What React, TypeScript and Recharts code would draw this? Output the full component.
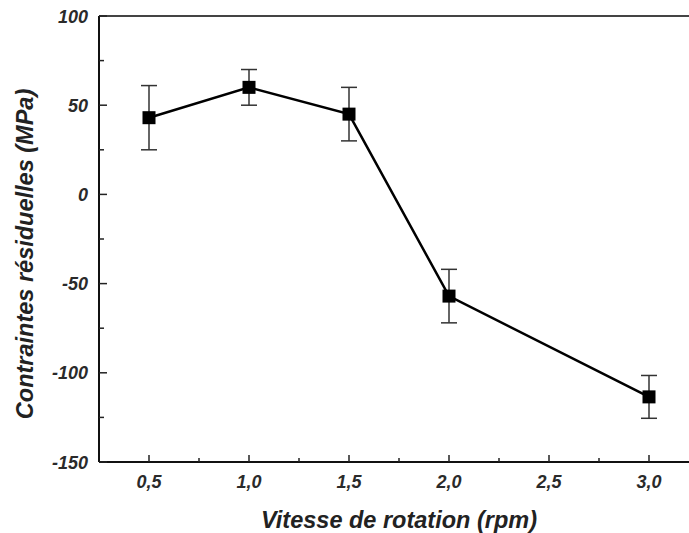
import { LineChart, Line, XAxis, YAxis, ErrorBar, ReferenceLine, Label } from "recharts";

const speeds = [0.5, 1.0, 1.5, 2.0, 3.0];
const stress = [43, 60, 45, -57, -113.5];
const stressErr = [18, 10, 15, 15, 12];

const xMajor = [0.5, 1.0, 1.5, 2.0, 2.5, 3.0];
const xMinor = [0.75, 1.25, 1.75, 2.25, 2.75];
const yMajor = [-150, -100, -50, 0, 50, 100];
const yMinor = [-125, -75, -25, 25, 75];

const data = speeds.map((s, i) => ({ speed: s, stress: stress[i], err: stressErr[i] }));

const FONT = "'Liberation Sans', Arial, sans-serif";
const tickText = {
  fill: "#2a2a2a",
  fontSize: 18,
  fontWeight: 700,
  fontStyle: "italic" as const,
  fontFamily: FONT,
};

function YTick(props: any) {
  const { x, y, payload } = props;
  const major = yMajor.includes(payload.value);
  return (
    <g>
      <line x1={x} x2={x + (major ? 8 : 5)} y1={y} y2={y} stroke="#222" strokeWidth={1.5} />
      {major && (
        <text x={x - 11} y={y + 6.5} textAnchor="end" {...tickText}>
          {String(payload.value)}
        </text>
      )}
    </g>
  );
}

function XTick(props: any) {
  const { x, y, payload } = props;
  const major = xMajor.includes(payload.value);
  return (
    <g>
      <line x1={x} x2={x} y1={y} y2={y - (major ? 7 : 4)} stroke="#222" strokeWidth={1.5} />
      {major && (
        <text x={x} y={y + 26} textAnchor="middle" {...tickText}>
          {payload.value.toFixed(1).replace(".", ",")}
        </text>
      )}
    </g>
  );
}

function SquareDot(props: any) {
  const { cx, cy, index } = props;
  return <rect key={`dot-${index}`} x={cx - 6.5} y={cy - 6.5} width={13} height={13} fill="#000" />;
}

export default function App() {
  return (
    <div style={{ position: "absolute", left: 0, top: 0, background: "#fff" }}>
      <LineChart width={689} height={533} data={data} margin={{ top: 16, right: 0, left: 0, bottom: 0 }}>
        <XAxis
          dataKey="speed"
          type="number"
          domain={[0.25, 3.2]}
          allowDataOverflow
          ticks={[...xMajor, ...xMinor].sort((a, b) => a - b)}
          interval={0}
          height={71}
          tickSize={0}
          tickMargin={0}
          tickLine={false}
          axisLine={{ stroke: "#111", strokeWidth: 2 }}
          tick={<XTick />}
        >
          <Label
            content={({ viewBox }: any) => (
              <text
                x={viewBox.x + viewBox.width / 2 + 5}
                y={viewBox.y + 66}
                textAnchor="middle"
                fill="#222"
                fontSize={23.5}
                fontWeight={700}
                fontStyle="italic"
                fontFamily={FONT}
              >
                Vitesse de rotation (rpm)
              </text>
            )}
          />
        </XAxis>
        <YAxis
          type="number"
          domain={[-150, 100]}
          allowDataOverflow
          ticks={[...yMajor, ...yMinor].sort((a, b) => a - b)}
          interval={0}
          width={99}
          tickSize={0}
          tickMargin={0}
          tickLine={false}
          axisLine={{ stroke: "#111", strokeWidth: 2 }}
          tick={<YTick />}
        >
          <Label
            content={({ viewBox }: any) => {
              const cx = 33;
              const cy = viewBox.y + viewBox.height / 2 + 15;
              return (
                <text
                  x={cx}
                  y={cy}
                  transform={`rotate(-90, ${cx}, ${cy})`}
                  textAnchor="middle"
                  fill="#222"
                  fontSize={23.5}
                  fontWeight={700}
                  fontStyle="italic"
                  fontFamily={FONT}
                >
                  Contraintes résiduelles (MPa)
                </text>
              );
            }}
          />
        </YAxis>
        <ReferenceLine y={100} stroke="#444" strokeWidth={2} />
        <Line
          dataKey="stress"
          stroke="#000"
          strokeWidth={2.5}
          dot={SquareDot}
          activeDot={false}
          isAnimationActive={false}
        >
          <ErrorBar dataKey="err" direction="y" width={8} stroke="#333" strokeWidth={1.5} />
        </Line>
      </LineChart>
    </div>
  );
}
